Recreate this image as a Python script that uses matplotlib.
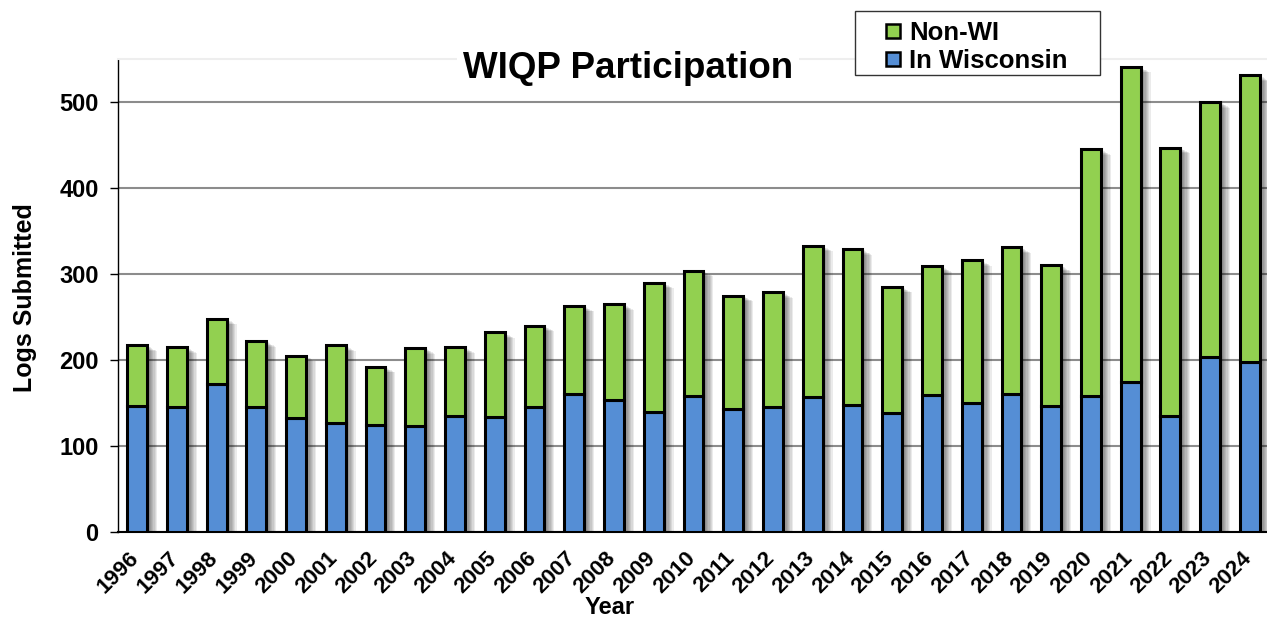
import matplotlib
matplotlib.use("Agg")
import matplotlib.pyplot as plt
import matplotlib.patheffects as pe
import matplotlib.transforms as mtransforms
from matplotlib.patches import Rectangle
from matplotlib.lines import Line2D
import numpy as np

# Data
years = [str(y) for y in range(1996, 2025)]
in_wisconsin = [147, 145, 172, 145, 132, 127, 124, 123, 135, 134, 145, 160, 153, 140, 158,
                143, 145, 157, 148, 138, 159, 150, 160, 146, 158, 175, 135, 204, 198]
non_wi = [70, 70, 76, 77, 73, 90, 68, 91, 80, 98, 95, 103, 112, 150, 146,
          132, 134, 176, 181, 147, 150, 166, 171, 164, 287, 366, 312, 296, 333]
y_ticks = [0, 100, 200, 300, 400, 500]

blue = "#558ED5"
green = "#92D050"

plt.rcParams["font.family"] = ["Liberation Sans", "DejaVu Sans"]
plt.rcParams["font.weight"] = "bold"

W, H = 1267, 620
fig = plt.figure(figsize=(W / 100, H / 100), dpi=100)
ax = fig.add_axes([118 / W, 1 - 532 / H, 1 - 118 / W, (532 - 59) / H])

x = np.arange(len(years))
width = 0.5
totals = np.array(in_wisconsin) + np.array(non_wi)

# soft drop shadow behind each stacked bar
shadow = [pe.SimplePatchShadow(offset=(k * 0.9, -k * 0.5), shadow_rgbFace="black", alpha=0.08)
          for k in range(1, 9)]
ax.bar(x, totals, width, color="black", zorder=2, path_effects=shadow)

ax.bar(x, in_wisconsin, width, color=blue, edgecolor="black", linewidth=2.2, zorder=3)
ax.bar(x, non_wi, width, bottom=in_wisconsin, color=green, edgecolor="black",
       linewidth=2.2, zorder=3)

ax.set_xlim(-0.48, 28.43)
ax.set_ylim(0, 550)
ax.set_yticks(y_ticks)
ax.set_axisbelow(True)
ax.yaxis.grid(True, color="#8c8c8c", linewidth=1.5)

ax.set_xticks(x)
ax.set_xticklabels(years, rotation=45, ha="right", fontsize=16, fontweight="bold")
ax.tick_params(axis="x", length=0, pad=11)
shift = mtransforms.ScaledTranslation(6 / 100, 0, fig.dpi_scale_trans)
for lbl in ax.get_xticklabels():
    lbl.set_transform(lbl.get_transform() + shift)
ax.tick_params(axis="y", labelsize=17, length=6, width=1, pad=8)

ax.spines["right"].set_visible(False)
ax.spines["top"].set_color("#eeeeee")
ax.spines["top"].set_linewidth(1.5)
ax.spines["left"].set_linewidth(1)
ax.spines["bottom"].set_linewidth(1.5)

# titles and axis labels
fig.text(628 / W, 1 - 68 / H, "WIQP Participation", ha="center", va="center",
         fontsize=26.5, fontweight="bold", zorder=10,
         bbox=dict(facecolor="white", edgecolor="none", pad=4))
fig.text(25 / W, 1 - 298 / H, "Logs Submitted", ha="center", va="center",
         rotation=90, fontsize=18, fontweight="bold")
fig.text(610 / W, 1 - 607 / H, "Year", ha="center", va="center",
         fontsize=17, fontweight="bold")

# legend with its own box
fig.add_artist(Rectangle((855 / W, 1 - 75 / H), 245 / W, 64 / H, transform=fig.transFigure,
                         facecolor="white", edgecolor="#333333", linewidth=1, zorder=9))
handles = [
    Line2D([], [], marker="s", linestyle="none", markersize=10, markerfacecolor=green,
           markeredgecolor="black", markeredgewidth=1.8),
    Line2D([], [], marker="s", linestyle="none", markersize=10, markerfacecolor=blue,
           markeredgecolor="black", markeredgewidth=1.8),
]
leg = fig.legend(handles, ["Non-WI", "In Wisconsin"], loc="upper left",
                 bbox_to_anchor=(867 / W, 1 - 6 / H), frameon=False,
                 prop=dict(size=18.5, weight="bold"), handlelength=0.8,
                 handletextpad=0.25, labelspacing=0.15, borderpad=0.1)
leg.set_zorder(11)

fig.savefig("out.png", dpi=100)
